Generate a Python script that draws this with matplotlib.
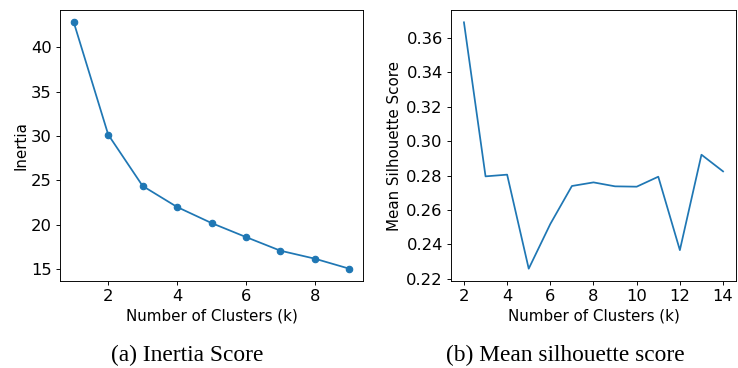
import matplotlib
matplotlib.use('Agg')
import matplotlib.pyplot as plt
from matplotlib.ticker import MultipleLocator

# elbow curve
k_inertia = [1, 2, 3, 4, 5, 6, 7, 8, 9]
inertia = [42.82, 30.15, 24.36, 21.99, 20.18, 18.60, 17.06, 16.16, 15.03]

# silhouette scores
k_silhouette = [2, 3, 4, 5, 6, 7, 8, 9, 10, 11, 12, 13, 14]
silhouette = [0.3691, 0.2795, 0.2805, 0.2258, 0.2518, 0.2739, 0.2760,
              0.2737, 0.2735, 0.2793, 0.2366, 0.2921, 0.2824]

captions = ['(a) Inertia Score', '(b) Mean silhouette score']

dpi = 84
fig = plt.figure(figsize=(738 / dpi, 368 / dpi), dpi=dpi)

ax1 = fig.add_axes([0.0813, 0.2364, 0.4106, 0.7364])
ax1.plot(k_inertia, inertia, marker='o', markersize=5.5, color='#1f77b4')
ax1.set_xlabel('Number of Clusters (k)', fontsize=13, labelpad=4)
ax1.set_ylabel('Inertia', fontsize=13, labelpad=2)
ax1.tick_params(labelsize=14)

ax2 = fig.add_axes([0.6111, 0.2364, 0.3862, 0.7364])
ax2.plot(k_silhouette, silhouette, color='#1f77b4')
ax2.set_xticks(range(2, 15, 2))
ax2.yaxis.set_major_locator(MultipleLocator(0.02))
ax2.set_xlabel('Number of Clusters (k)', fontsize=13, labelpad=4)
ax2.set_ylabel('Mean Silhouette Score', fontsize=13)
ax2.tick_params(labelsize=14)

fig.text(187 / 738, 1 - 355 / 368, captions[0], ha='center', va='center',
         family='Liberation Serif', fontsize=20)
fig.text(565 / 738, 1 - 355 / 368, captions[1], ha='center', va='center',
         family='Liberation Serif', fontsize=20)

fig.savefig('out.png', dpi=dpi)
